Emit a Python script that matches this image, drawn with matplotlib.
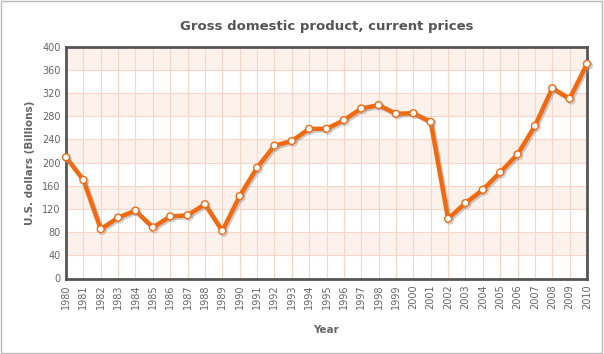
import matplotlib.pyplot as plt
import matplotlib.patheffects as pe
from matplotlib.patches import Rectangle

years = list(range(1980, 2011))
gdp = [209, 170, 85, 105, 117, 88, 107, 109, 128, 82,
       142, 191, 229, 237, 258, 258, 273, 293, 299, 284,
       285, 270, 103, 130, 153, 183, 214, 263, 328, 310, 370]
y_ticks = list(range(0, 401, 40))

title = "Gross domestic product, current prices"
x_title = "Year"
y_title = "U.S. dollars (Billions)"

line_color = "#f26a10"
grid_color = "#f5d6c8"
band_color = "#fdf1ec"
text_color = "#666666"
frame_color = "#555555"

fig = plt.figure(figsize=(6.04, 3.54), dpi=100)
ax = fig.add_axes([66 / 604, 75.5 / 354, 521 / 604, 232 / 354])

# alternating bands, pink from the top down
for i in range(len(y_ticks) - 1):
    if i % 2 == 1:
        ax.axhspan(y_ticks[i], y_ticks[i + 1], color=band_color, zorder=0, lw=0)

ax.set_xlim(years[0], years[-1])
ax.set_ylim(0, 400)
ax.set_xticks(years)
ax.set_xticklabels([str(y) for y in years], rotation=90)
ax.set_yticks(y_ticks)
ax.grid(True, color=grid_color, lw=0.8, zorder=1)
ax.set_axisbelow(True)

ax.plot(years, gdp, color=line_color, lw=3.2, marker="o", ms=5,
        mfc="white", mec=line_color, mew=1.0, zorder=5, clip_on=False,
        path_effects=[pe.SimpleLineShadow(offset=(1.2, -1.2), shadow_color="#999999", alpha=0.5),
                      pe.Normal()])

for s in ax.spines.values():
    s.set_color(frame_color)
    s.set_linewidth(2)

ax.tick_params(length=0, labelsize=7, labelcolor=text_color, pad=4)
ax.set_title(title, fontsize=9.5, fontweight="bold", color="#555555", pad=12)
ax.set_xlabel(x_title, fontsize=7.5, fontweight="bold", color=text_color, labelpad=12)
ax.set_ylabel(y_title, fontsize=7.5, fontweight="bold", color=text_color, labelpad=5)

# outer border of the picture
fig.patches.append(Rectangle((0.002, 0.004), 0.995, 0.992, transform=fig.transFigure,
                             fill=False, edgecolor="#bbbbbb", lw=1))

fig.savefig("out.png", dpi=100)
